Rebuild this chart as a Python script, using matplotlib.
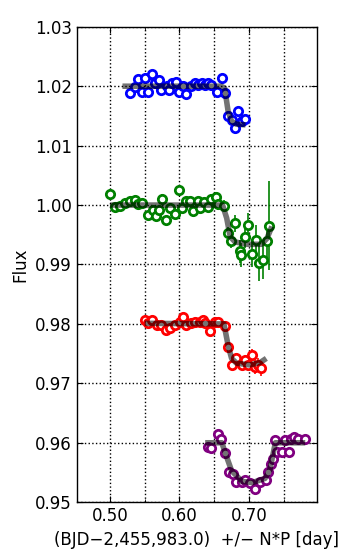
import numpy as np
import matplotlib
matplotlib.use("Agg")
import matplotlib.pyplot as plt
from matplotlib.ticker import MultipleLocator

# blue transit (offset 1.02)
blue_t = [0.529, 0.536, 0.540, 0.546, 0.550, 0.555, 0.561, 0.565, 0.571, 0.574,
          0.582, 0.585, 0.590, 0.595, 0.600, 0.605, 0.609, 0.616, 0.622, 0.627,
          0.632, 0.637, 0.641, 0.646, 0.654, 0.661, 0.665, 0.670, 0.675, 0.680,
          0.684, 0.690, 0.695]
blue_f = [1.0189, 1.0199, 1.0212, 1.0191, 1.0214, 1.0191, 1.0221, 1.0205, 1.0210, 1.0193,
          1.0201, 1.0194, 1.0205, 1.0207, 1.0191, 1.0201, 1.0187, 1.0201, 1.0205, 1.0202,
          1.0205, 1.0202, 1.0205, 1.0202, 1.0190, 1.0214, 1.0188, 1.0150, 1.0143, 1.0129,
          1.0159, 1.0141, 1.0145]
blue_e = [0.0004] * len(blue_t)
blue_model_t = [0.518, 0.660, 0.665, 0.670, 0.675, 0.682, 0.695]
blue_model_f = [1.0200, 1.0200, 1.0197, 1.0158, 1.0141, 1.0136, 1.0135]

# green transit (offset 1.00)
green_t = [0.500, 0.507, 0.514, 0.522, 0.529, 0.536, 0.541, 0.546, 0.555, 0.562,
           0.566, 0.571, 0.575, 0.580, 0.586, 0.593, 0.599, 0.604, 0.610, 0.615,
           0.620, 0.626, 0.630, 0.635, 0.641, 0.645, 0.653, 0.656, 0.664, 0.670,
           0.674, 0.680, 0.687, 0.689, 0.695, 0.699, 0.704, 0.710, 0.715, 0.720,
           0.726, 0.729]
green_f = [1.0018, 0.9997, 0.9999, 1.0003, 1.0007, 1.0009, 1.0001, 1.0003, 0.9983, 0.9992,
           0.9981, 0.9992, 1.0011, 0.9975, 0.9995, 0.9985, 1.0026, 0.9995, 1.0007, 1.0007,
           0.9990, 1.0006, 0.9995, 1.0005, 0.9996, 1.0010, 1.0013, 1.0001, 0.9999, 0.9953,
           0.9940, 0.9969, 0.9922, 0.9916, 0.9947, 0.9967, 0.9917, 0.9941, 0.9903, 0.9908,
           0.9940, 0.9965]
green_e = [0.0009, 0.0006, 0.0006, 0.0006, 0.0006, 0.0006, 0.0006, 0.0006, 0.0007, 0.0007,
           0.0007, 0.0007, 0.0007, 0.0007, 0.0007, 0.0007, 0.0008, 0.0007, 0.0007, 0.0007,
           0.0007, 0.0007, 0.0007, 0.0007, 0.0008, 0.0008, 0.0009, 0.0009, 0.0009, 0.0010,
           0.0012, 0.0015, 0.0020, 0.0020, 0.0020, 0.0020, 0.0022, 0.0025, 0.0030, 0.0032,
           0.0030, 0.0075]
green_model_t = [0.500, 0.662, 0.668, 0.673, 0.680, 0.697, 0.718, 0.726, 0.733]
green_model_f = [1.0000, 1.0000, 0.9978, 0.9947, 0.9938, 0.9934, 0.9934, 0.9944, 0.9964]

# red transit (offset 0.98)
red_t = [0.550, 0.555, 0.561, 0.567, 0.574, 0.581, 0.586, 0.593, 0.601, 0.605,
         0.610, 0.617, 0.622, 0.629, 0.634, 0.637, 0.644, 0.651, 0.656, 0.665,
         0.670, 0.675, 0.682, 0.690, 0.694, 0.699, 0.704, 0.709, 0.713, 0.718]
red_f = [0.9807, 0.9801, 0.9807, 0.9798, 0.9798, 0.9790, 0.9793, 0.9798, 0.9804, 0.9812,
         0.9798, 0.9801, 0.9803, 0.9804, 0.9807, 0.9801, 0.9788, 0.9804, 0.9803, 0.9796,
         0.9762, 0.9731, 0.9742, 0.9731, 0.9739, 0.9731, 0.9748, 0.9728, 0.9731, 0.9725]
red_e = [0.0004] * 20 + [0.0005, 0.0005, 0.0006, 0.0006, 0.0007, 0.0008, 0.0010, 0.0012,
                         0.0012, 0.0012]
red_model_t = [0.550, 0.664, 0.670, 0.675, 0.682, 0.701, 0.716, 0.725]
red_model_f = [0.9801, 0.9800, 0.9764, 0.9742, 0.9734, 0.9731, 0.9735, 0.9742]

# purple transit (offset 0.96)
purple_t = [0.641, 0.646, 0.655, 0.660, 0.665, 0.671, 0.677, 0.682, 0.690, 0.695,
            0.701, 0.709, 0.716, 0.725, 0.728, 0.732, 0.735, 0.737, 0.741, 0.747,
            0.752, 0.757, 0.761, 0.765, 0.771, 0.780]
purple_f = [0.9593, 0.9592, 0.9615, 0.9607, 0.9582, 0.9551, 0.9548, 0.9534, 0.9534, 0.9537,
            0.9532, 0.9523, 0.9534, 0.9538, 0.9551, 0.9564, 0.9572, 0.9605, 0.9585, 0.9585,
            0.9605, 0.9585, 0.9607, 0.9610, 0.9607, 0.9606]
purple_e = [0.0004] * 17 + [0.0006, 0.0005, 0.0005, 0.0006, 0.0005, 0.0005, 0.0004, 0.0004,
                            0.0004]
purple_model_t = [0.637, 0.661, 0.668, 0.675, 0.690, 0.705, 0.723, 0.730, 0.738, 0.781]
purple_model_f = [0.9600, 0.9600, 0.9576, 0.9553, 0.9535, 0.9533, 0.9540, 0.9554, 0.9600, 0.9600]

series = [
    (blue_t, blue_f, blue_e, blue_model_t, blue_model_f, "blue"),
    (green_t, green_f, green_e, green_model_t, green_model_f, "green"),
    (red_t, red_f, red_e, red_model_t, red_model_f, "red"),
    (purple_t, purple_f, purple_e, purple_model_t, purple_model_f, "purple"),
]

fig = plt.figure(figsize=(3.45, 5.58), dpi=100)
ax = fig.add_axes([0.223, 0.100, 0.696, 0.852])

for t, f, e, mt, mf, c in series:
    ax.errorbar(t, f, yerr=e, fmt="o", color=c, mfc="white", mec=c, mew=2,
                ms=6, elinewidth=1.2, capsize=0, zorder=2)
    ax.plot(mt, mf, "-", color="k", alpha=0.55, lw=4, zorder=3,
            solid_capstyle="butt")

ax.set_xlim(0.4525, 0.798)
ax.set_ylim(0.95, 1.03)
ax.xaxis.set_major_locator(MultipleLocator(0.1))
ax.xaxis.set_minor_locator(MultipleLocator(0.05))
ax.yaxis.set_major_locator(MultipleLocator(0.01))
ax.xaxis.set_major_formatter(plt.FormatStrFormatter("%.2f"))
ax.yaxis.set_major_formatter(plt.FormatStrFormatter("%.2f"))
ax.tick_params(which="both", direction="in", top=True, right=True, labelsize=12)
ax.tick_params(which="major", length=4)
ax.tick_params(which="minor", length=2)
ax.grid(True, which="major", color="k", linestyle=":", lw=1)
ax.grid(True, which="minor", axis="x", color="k", linestyle=":", lw=1)
for s in ax.spines.values():
    s.set_linewidth(1)

ax.set_xlabel("(BJD\u22122,455,983.0)  +/\u2212 N*P [day]", fontsize=12)
ax.set_ylabel("Flux", fontsize=12)

fig.savefig("out.png", dpi=100)
